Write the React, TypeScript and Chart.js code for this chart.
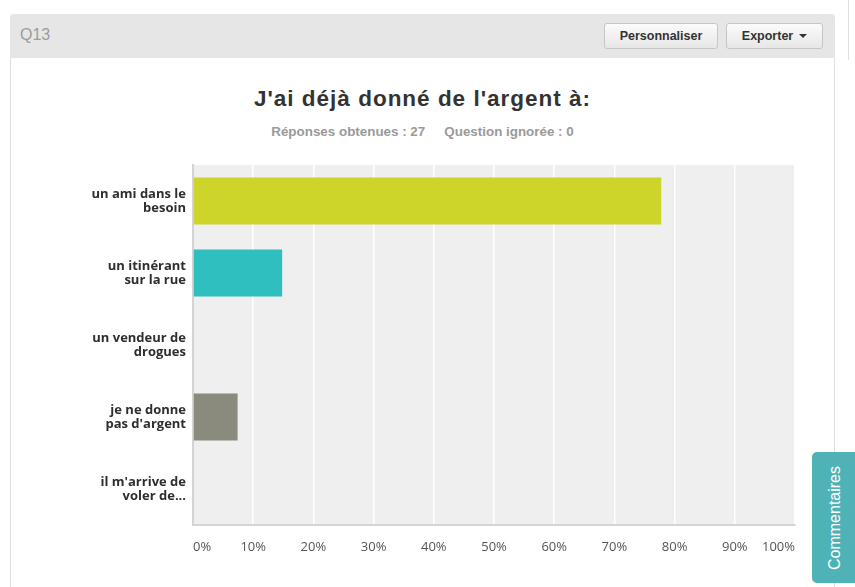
import React, { useEffect, useRef } from "react";
import { Chart, registerables } from "chart.js";

Chart.register(...registerables);

const categories: string[][] = [
  ["un ami dans le", "besoin"],
  ["un itinérant", "sur la rue"],
  ["un vendeur de", "drogues"],
  ["je ne donne", "pas d'argent"],
  ["il m'arrive de", "voler de..."],
];
const percentValues: number[] = [77.78, 14.81, 0, 7.41, 0];
const barColors: string[] = ["#cdd42a", "#30bfbf", "#cccccc", "#8a8b7c", "#cccccc"];
const xTickValues: number[] = [0, 10, 20, 30, 40, 50, 60, 70, 80, 90, 100];
const titleText = "J'ai déjà donné de l'argent à:";
const subtitleParts: string[] = ["Réponses obtenues : 27", "Question ignorée : 0"];

const plotBg = {
  id: "plotBg",
  beforeDraw(chart: any) {
    const { ctx, chartArea } = chart;
    if (!chartArea) return;
    ctx.save();
    ctx.fillStyle = "#efefef";
    ctx.fillRect(chartArea.left, chartArea.top, chartArea.right - chartArea.left, chartArea.bottom - chartArea.top);
    ctx.restore();
  },
};

function ChartCanvas() {
  const ref = useRef<HTMLCanvasElement | null>(null);
  useEffect(() => {
    if (!ref.current) return;
    const chart = new Chart(ref.current, {
      type: "bar",
      data: {
        labels: categories,
        datasets: [
          {
            data: percentValues,
            backgroundColor: barColors,
            borderWidth: 0,
            barPercentage: 0.65,
            categoryPercentage: 1,
          },
        ],
      },
      plugins: [plotBg],
      options: {
        indexAxis: "y",
        animation: false,
        responsive: false,
        layout: { padding: { left: 0, right: 40, top: 108, bottom: 22 } },
        plugins: {
          legend: { display: false },
          tooltip: { enabled: false },
          title: { display: false },
        },
        scales: {
          x: {
            min: 0,
            max: 100,
            afterBuildTicks: (scale: any) => {
              scale.ticks = xTickValues.map((v) => ({ value: v }));
            },
            afterFit: (scale: any) => {
              scale.height = 40;
            },
            ticks: {
              align: "inner",
              padding: 14,
              color: "#555555",
              font: { family: "'Open Sans', sans-serif", size: 13 },
              callback: (v: any) => v + "%",
            },
            grid: { color: "#ffffff", lineWidth: 1.5, drawTicks: false },
            border: { display: true, color: "#d4d4d4", width: 2 },
          },
          y: {
            afterFit: (scale: any) => {
              scale.width = 183;
            },
            ticks: {
              padding: 7,
              color: "#2e2e2e",
              font: { family: "'Open Sans', sans-serif", size: 13, weight: "bold", lineHeight: 1.1 },
            },
            grid: { display: false, drawTicks: false },
            border: { display: true, color: "#d4d4d4", width: 2 },
          },
        },
      },
    } as any);
    return () => chart.destroy();
  }, []);
  return <canvas ref={ref} width={825} height={530} style={{ position: "absolute", left: 10, top: 57, width: 825, height: 530 }} />;
}

const btn: React.CSSProperties = {
  position: "absolute",
  top: 23,
  height: 26,
  boxSizing: "border-box",
  border: "1px solid #c6c6c6",
  borderRadius: 3,
  background: "linear-gradient(#fbfbfb, #e7e7e7)",
  color: "#333",
  font: "bold 12.5px 'Liberation Sans', Arial, sans-serif",
  display: "flex",
  alignItems: "center",
  justifyContent: "center",
};

export default function App() {
  return (
    <div style={{ position: "fixed", left: 0, top: 0, width: 855, height: 587, background: "#fff", overflow: "hidden" }}>
      <div style={{ position: "absolute", left: 10, top: 14, width: 825, height: 620, boxSizing: "border-box", border: "1px solid #e0e0e0", borderRadius: 4, background: "#fff" }} />
      <div style={{ position: "absolute", left: 10, top: 14, width: 825, height: 44, background: "#e6e6e6", borderRadius: "4px 4px 0 0" }} />
      <div style={{ position: "absolute", left: 20, top: 26, font: "16px 'Liberation Sans', Arial, sans-serif", color: "#9c9c9c" }}>Q13</div>
      <div style={{ ...btn, left: 604, width: 114 }}>Personnaliser</div>
      <div style={{ ...btn, left: 726, width: 97 }}>
        Exporter
        <span style={{ display: "inline-block", marginLeft: 6, width: 0, height: 0, borderLeft: "4px solid transparent", borderRight: "4px solid transparent", borderTop: "4px solid #333" }} />
      </div>
      <div style={{ position: "absolute", left: 848, top: 0, width: 1, height: 60, background: "#e0e0e0" }} />
      <div style={{ position: "absolute", left: 10, width: 825, top: 85, textAlign: "center", font: "bold 22.5px 'Liberation Sans', Arial, sans-serif", letterSpacing: 1, color: "#333", lineHeight: "28px", whiteSpace: "nowrap" }}>{titleText}</div>
      <div style={{ position: "absolute", left: 10, width: 825, top: 124, textAlign: "center", font: "bold 13.4px 'Liberation Sans', Arial, sans-serif", color: "#9a9a9a", lineHeight: "16px", whiteSpace: "nowrap" }}>
        <span>{subtitleParts[0]}</span>
        <span style={{ marginLeft: 19 }}>{subtitleParts[1]}</span>
      </div>
      <ChartCanvas />
      <div style={{ position: "absolute", left: 812, top: 452, width: 52, height: 131, background: "#4fb2b6", borderRadius: 5 }}>
        <div style={{ position: "absolute", left: 23, top: 66, transform: "translate(-50%, -50%) rotate(-90deg)", whiteSpace: "nowrap", color: "#fff", font: "16px 'Liberation Sans', Arial, sans-serif" }}>Commentaires</div>
      </div>
    </div>
  );
}
